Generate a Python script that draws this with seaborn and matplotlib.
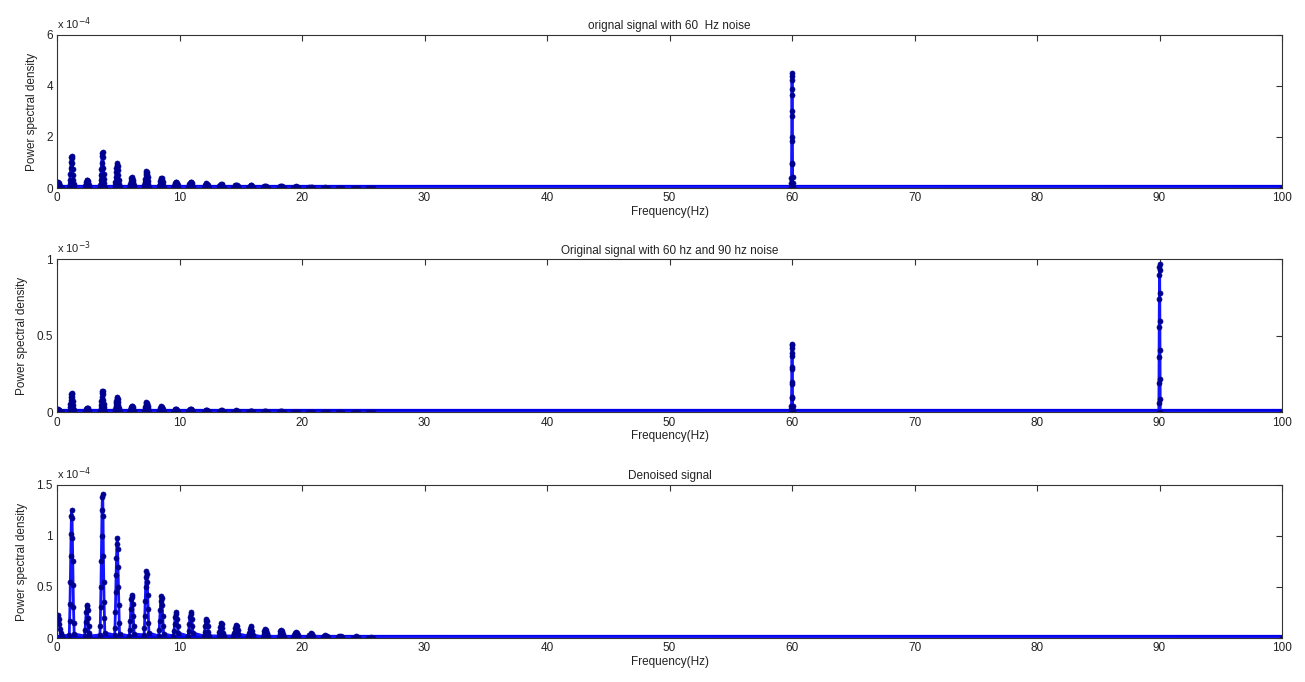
import numpy as np
import pandas as pd
import matplotlib
matplotlib.use("Agg")
import matplotlib.pyplot as plt
import matplotlib.ticker as mticker
import seaborn as sns

# harmonic peaks of the clean signal (Hz) and marker heights (x 1e-4)
harm_freq = [0.2, 1.2, 2.45, 3.7, 4.9, 6.1, 7.3, 8.5, 9.7, 10.9, 12.2, 13.4,
             14.6, 15.8, 17.0, 18.3, 19.5, 20.7, 21.9, 23.1, 24.4, 25.6]
harm_psd = [
    [0.22, 0.23, 0.19, 0.14, 0.09, 0.05, 0.02],
    [0.03, 0.17, 0.33, 0.55, 0.8, 1.02, 1.2, 1.25, 1.18, 0.98, 0.75, 0.52, 0.3, 0.15, 0.04],
    [0.02, 0.08, 0.16, 0.25, 0.31, 0.32, 0.27, 0.2, 0.12, 0.05, 0.02],
    [0.03, 0.12, 0.3, 0.5, 0.75, 1.0, 1.25, 1.38, 1.41, 1.2, 0.8, 0.55, 0.35, 0.2, 0.05],
    [0.03, 0.1, 0.25, 0.45, 0.62, 0.78, 0.92, 0.98, 0.87, 0.7, 0.5, 0.32, 0.15, 0.04],
    [0.02, 0.08, 0.17, 0.28, 0.38, 0.42, 0.4, 0.33, 0.22, 0.12, 0.04],
    [0.03, 0.1, 0.22, 0.36, 0.5, 0.6, 0.66, 0.63, 0.55, 0.42, 0.28, 0.15, 0.05],
    [0.02, 0.08, 0.17, 0.27, 0.36, 0.41, 0.39, 0.32, 0.22, 0.12, 0.04],
    [0.02, 0.07, 0.14, 0.21, 0.25, 0.24, 0.19, 0.12, 0.05],
    [0.02, 0.07, 0.14, 0.21, 0.25, 0.24, 0.19, 0.12, 0.05],
    [0.02, 0.06, 0.12, 0.17, 0.19, 0.17, 0.12, 0.06, 0.02],
    [0.02, 0.06, 0.11, 0.15, 0.14, 0.1, 0.05, 0.02],
    [0.02, 0.05, 0.1, 0.13, 0.12, 0.08, 0.04],
    [0.02, 0.05, 0.09, 0.12, 0.11, 0.07, 0.03],
    [0.01, 0.04, 0.07, 0.09, 0.08, 0.05, 0.02],
    [0.01, 0.04, 0.07, 0.08, 0.07, 0.04, 0.01],
    [0.01, 0.03, 0.05, 0.06, 0.05, 0.03, 0.01],
    [0.01, 0.03, 0.05, 0.04, 0.02],
    [0.01, 0.02, 0.03, 0.02, 0.01],
    [0.01, 0.02, 0.02, 0.01],
    [0.005, 0.015, 0.01],
    [0.005, 0.01, 0.005],
]

# power line noise peaks (x 1e-4)
noise60_psd = [0.03, 0.21, 0.41, 0.94, 1.86, 2.82, 3.66, 4.22, 4.49,
               4.4, 3.9, 3.0, 2.0, 1.0, 0.45, 0.18, 0.03]
noise90_psd = [0.03, 0.6, 1.9, 3.6, 5.6, 7.4, 9.0, 9.5, 9.7,
               9.3, 7.8, 6.0, 4.1, 2.2, 0.9, 0.03]

titles = ["orignal signal with 60  Hz noise",
          "Original signal with 60 hz and 90 hz noise",
          "Denoised signal"]
y_scale = [1e-4, 1e-3, 1e-4]
y_ticks = [[0, 2, 4, 6], [0, 0.5, 1], [0, 0.5, 1, 1.5]]
exponents = ["-4", "-3", "-4"]


def peak_points(freqs, heights, half_width):
    xs, ys = [], []
    for f, h in zip(freqs, heights):
        xs.extend(f + np.linspace(-half_width, half_width, len(h)))
        ys.extend(np.array(h) * 1e-4)
    return xs, ys


hx, hy = peak_points(harm_freq, harm_psd, 0.2)
n60x, n60y = peak_points([60.0], [noise60_psd], 0.06)
n90x, n90y = peak_points([90.0], [noise90_psd], 0.06)

panels = [
    (hx + n60x + [100.0], hy + n60y + [0.0]),
    (hx + n60x + n90x + [100.0], hy + n60y + n90y + [0.0]),
    (hx + [100.0], hy + [0.0]),
]

sns.set_style("white")
plt.rcParams["font.family"] = ["Liberation Sans", "DejaVu Sans"]
plt.rcParams["xtick.direction"] = "in"
plt.rcParams["ytick.direction"] = "in"

fig = plt.figure(figsize=(13.05, 6.82), dpi=100)
bottoms = [0.7243, 0.3952, 0.0645]
txt = "#222222"

for i, (xs, ys) in enumerate(panels):
    ax = fig.add_axes([0.0437, bottoms[i], 0.9387, 0.2245])
    df = pd.DataFrame({"freq": xs, "psd": ys}).sort_values("freq")
    # thick baseline made of the dense near-zero samples
    sns.lineplot(x=[0.0, 100.0], y=[0.0, 0.0], ax=ax, color="#0000e6", lw=4.5)
    sns.lineplot(data=df, x="freq", y="psd", ax=ax, sort=False, estimator=None,
                 color="#1414ff", lw=2.0, marker="o", markersize=3.6,
                 markeredgecolor="#000090", markerfacecolor="#000090",
                 markeredgewidth=0.5)
    sc = y_scale[i]
    ax.set_xlim(0, 100)
    ax.set_ylim(0, y_ticks[i][-1] * sc)
    ax.set_xticks(np.arange(0, 101, 10))
    ax.set_yticks([t * sc for t in y_ticks[i]])
    ax.yaxis.set_major_formatter(mticker.FuncFormatter(lambda v, _, s=sc: f"{v / s:g}"))
    ax.tick_params(axis="both", which="both", top=True, right=True, length=4,
                   labelsize=8.5, colors="#333333", labelcolor=txt, pad=3)
    for sp in ax.spines.values():
        sp.set_color("#333333")
        sp.set_linewidth(0.8)
    ax.set_title(titles[i], fontsize=8.5, color=txt, pad=4)
    ax.set_xlabel("Frequency(Hz)", fontsize=8.5, color=txt, labelpad=1)
    ax.set_ylabel("Power spectral density", fontsize=8.5, color=txt, labelpad=6)
    ax.text(0.0, 1.02, r"x 10$^{" + exponents[i] + "}$", transform=ax.transAxes,
            fontsize=8, color=txt, ha="left", va="bottom")

fig.savefig("out.png", dpi=100)
